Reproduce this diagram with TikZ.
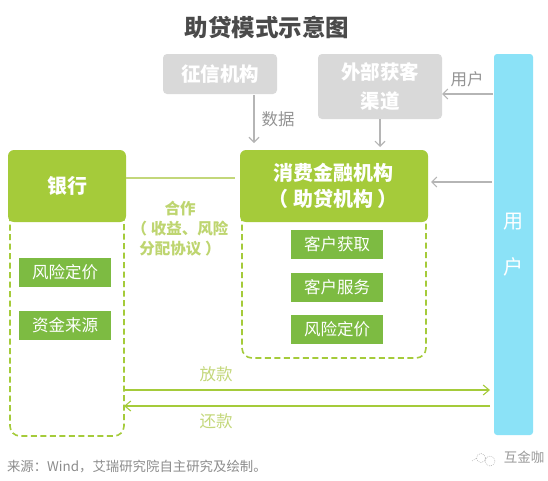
\documentclass[tikz,border=0pt]{standalone}
\usepackage{fontspec}
\setmainfont{Noto Sans CJK SC}
\usetikzlibrary{arrows.meta}
\definecolor{lime}{HTML}{A5CB3A}
\definecolor{midgreen}{HTML}{7DBB42}
\definecolor{greybox}{HTML}{D9D9D9}
\definecolor{greyline}{HTML}{B5B5B5}
\definecolor{skyblue}{HTML}{8BE2F7}
\definecolor{limetext}{HTML}{C3D77A}
\definecolor{titlegrey}{HTML}{4A4A4A}
\tikzset{
  px/.style={x=1pt,y=-1pt},
  every node/.style={inner sep=0pt,outer sep=0pt,align=center},
  greycard/.style={fill=greybox,rounded corners=4pt,text=white,font=\fontsize{19.5}{29}\selectfont\bfseries},
  tag/.style={fill=midgreen,text=white,font=\fontsize{16.5}{19}\selectfont},
  dashbox/.style={draw=lime,line width=1.6pt,dash pattern=on 6pt off 3.5pt,rounded corners=10pt},
  greyarrow/.style={draw=greyline,line width=1.1pt,-{Straight Barb[length=5pt,width=10pt]}},
  greenarrow/.style={draw=lime,line width=1.1pt,-{Straight Barb[length=6pt,width=10pt]}},
  greylabel/.style={text=gray!85,font=\fontsize{16.5}{19}\selectfont},
  greenlabel/.style={text=limetext,font=\fontsize{16.5}{19}\selectfont},
}
\begin{document}
\begin{tikzpicture}[px]
\useasboundingbox (0,0) rectangle (548,480);
\node[text=titlegrey,font=\fontsize{23.5}{27}\selectfont\bfseries] (title) at (267,27) {助贷模式示意图};
% dashed bodies
\draw[dashbox] (10,215) -- (10,436) -- (124,436) -- (124,215);
\draw[dashbox] (242,215) -- (242,358) -- (426,358) -- (426,215);
% headers
\fill[lime,rounded corners=6pt] (8,150) rectangle (126,222);
\node[text=white,font=\fontsize{20}{25}\selectfont\bfseries] (bank) at (67,186) {银行};
\fill[lime,rounded corners=6pt] (240,150) rectangle (428,222);
\node[text=white,font=\fontsize{20}{26}\selectfont\bfseries] (lender) at (333,186) {消费金融机构\\（ 助贷机构 ）};
\coordinate (bankE) at (126,178);
\coordinate (lenderW) at (235,178);
\coordinate (lenderN1) at (254,143);
\coordinate (lenderN2) at (380,147);
\coordinate (lenderE) at (431,182);
% grey cards
\node[greycard,minimum width=114pt,minimum height=40pt] (credit) at (220,74) {征信机构};
\node[greycard,minimum width=124pt,minimum height=65pt] (channel) at (380,86.5) {外部获客\\渠道};
% user bar
\node[fill=skyblue,rounded corners=3pt,minimum width=39pt,minimum height=381pt,text=white,font=\fontsize{20}{46}\selectfont] (user) at (513.5,244.5) {用\\户};
% tags
\node[tag,minimum width=92pt,minimum height=29pt] (b1) at (65,272.5) {风险定价};
\node[tag,minimum width=92pt,minimum height=29pt] (b2) at (65,325.5) {资金来源};
\node[tag,minimum width=92pt,minimum height=29pt] (l1) at (337,244.5) {客户获取};
\node[tag,minimum width=92pt,minimum height=29pt] (l2) at (337,287.5) {客户服务};
\node[tag,minimum width=92pt,minimum height=29pt] (l3) at (337,329.5) {风险定价};
% connectors
\draw[draw=limetext,line width=1.1pt] (bankE) -- (lenderW);
\node[text=limetext!85!lime,font=\fontsize{15.5}{20}\selectfont\bfseries] (coop) at (180,229) {合作\\（ 收益、风险\\分配协议 ）};
\draw[greyarrow] (254,95) -- (lenderN1);
\node[greylabel] (data) at (278,119) {数据};
\draw[greyarrow] (channel.south -| lenderN2) -- (lenderN2);
\coordinate (userA) at (493,94);
\coordinate (userB) at (492,182);
\draw[greyarrow] (userA) -- (442,94);
\node[greylabel] (ulabel) at (467,79) {用户};
\draw[greyarrow] (userB) -- (lenderE);
\coordinate (bankL) at (124,390);
\coordinate (userL) at (490,390);
\coordinate (bankR) at (124,406);
\coordinate (userR) at (490,406);
\draw[greenarrow] (bankL) -- (userL);
\draw[greenarrow] (userR) -- (bankR);
\node[greenlabel] (lend) at (216,374) {放款};
\node[greenlabel] (repay) at (216,421) {还款};
\node[anchor=west,text=gray!90,font=\fontsize{13.4}{16}\selectfont] (src) at (7,467) {来源：Wind，艾瑞研究院自主研究及绘制。};
\node[text=gray!80,font=\fontsize{13.5}{16}\selectfont] (brand) at (524,457) {互金咖};
% logo
\draw[gray!60,line width=.5pt,dash pattern=on 1pt off 1pt] (481,458) circle (4.5pt) (490,461) circle (5pt) (472,461) -- (477,458);
\end{tikzpicture}
\end{document}
